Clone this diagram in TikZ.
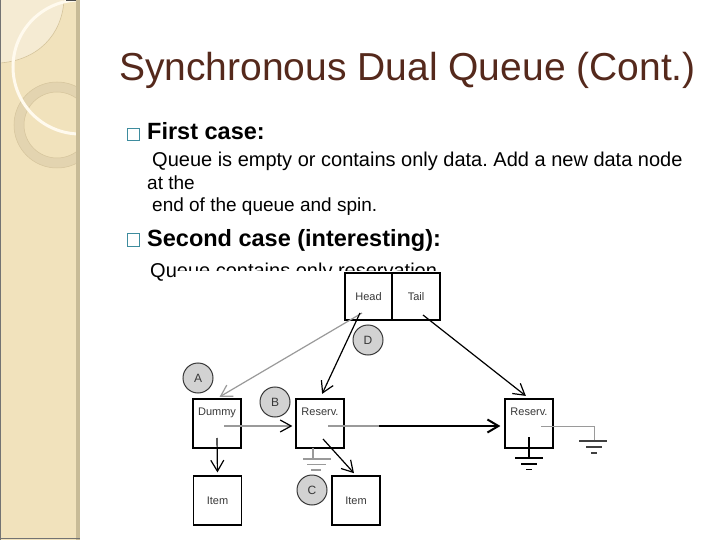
\documentclass[tikz,border=0pt]{standalone}
\usepackage{fontspec}
\setmainfont{Liberation Sans}
\usetikzlibrary{arrows.meta,calc}
\definecolor{stripcol}{HTML}{F1E2BC}
\definecolor{striplight}{HTML}{F5EBD3}
\definecolor{stripline}{HTML}{D5C49C}
\definecolor{ringcol}{HTML}{E3D4B0}
\definecolor{arccol}{HTML}{FFFAEE}
\definecolor{stripedge}{HTML}{C8BB97}
\definecolor{titlecol}{HTML}{55291C}
\definecolor{bulletcol}{HTML}{3E8C9E}
\definecolor{diagtext}{HTML}{383838}
\definecolor{circfill}{HTML}{D2D2D2}
\definecolor{grayline}{HTML}{9A9A9A}
\tikzset{
  box/.style={draw=black, line width=1.2pt, minimum width=48pt, minimum height=49pt, inner sep=0pt, font=\fontsize{11}{12}\selectfont, text=diagtext},
  boxlabel/.style={anchor=north, yshift=-9pt, inner sep=0pt, font=\fontsize{11}{12}\selectfont, text=diagtext},
  circ/.style={circle, draw=diagtext, fill=circfill, line width=1pt, minimum size=30pt, inner sep=0pt, font=\fontsize{12}{13}\selectfont, text=diagtext},
  arr/.style={-{Straight Barb[length=11pt,width=13pt]}, line width=1.2pt},
  garr/.style={arr, draw=grayline},
  gline/.style={draw=grayline, line width=1.2pt},
  bline/.style={draw=black, line width=1.4pt},
  bodytext/.style={anchor=base west, inner sep=0pt, font=\fontsize{19}{22}\selectfont},
  headtext/.style={anchor=base west, inner sep=0pt, font=\bfseries\fontsize{23.5}{26}\selectfont},
  bulletbox/.style={draw=bulletcol, line width=1.3pt, minimum size=12.5pt, inner sep=0pt}
}
\begin{document}
\frenchspacing
\begin{tikzpicture}[x=1pt,y=-1pt]
\useasboundingbox (0,0) rectangle (720,540);
\fill[white] (0,0) rectangle (720,540);
% decorative strip
\begin{scope}
\clip (0,0) rectangle (77,540);
\fill[stripcol] (0,0) rectangle (77,540);
\fill[striplight] (0,0) -- (64,0) .. controls (62,35) and (38,60) .. (0,63) -- cycle;
\draw[stripline, line width=0.6pt] (64,0) .. controls (62,35) and (38,60) .. (0,63);
\draw[ringcol, line width=10pt] (57,125) circle (38);
\draw[stripline, line width=0.5pt] (57,125) circle (43) (57,125) circle (33);
\draw[arccol, line width=3pt] (80,67) circle (67);
\end{scope}
\fill[stripedge] (76,0) rectangle (79.5,540);
\draw[black!55, line width=1pt] (0.5,0) -- (0.5,540);
\draw[black!55, line width=1.5pt] (0,538.5) -- (79.5,538.5);
\fill[black!70] (66,0) rectangle (76,1.5);
% title
\node[anchor=base west, inner sep=0pt, text=titlecol, font=\fontsize{39}{43}\selectfont] (title) at (119,81) {Synchronous Dual Queue (Cont.)};
% bullets and text
\node[bulletbox] (b1) at (133.5,134.5) {};
\node[headtext] (t1) at (147,140) {First case:};
\node[bodytext, font=\fontsize{20}{23}\selectfont] (t2) at (152,167) {Queue is empty or contains only data. Add a new data node};
\node[bodytext] (t3) at (147,189.5) {at the};
\node[bodytext] (t4) at (152,211.5) {end of the queue and spin.};
\node[bulletbox] (b2) at (133.5,240) {};
\node[headtext] (t5) at (147,246.5) {Second case (interesting):};
\node[bodytext, font=\fontsize{20}{23}\selectfont] (t6) at (150,277) {Queue contains only reservation};
% diagram picture background covering the text
\fill[white] (177,271) rectangle (620,540);
% diagram nodes
\node[box, minimum width=47pt, minimum height=47pt] (head) at (368.5,296.5) {Head};
\node[box, minimum width=48pt, minimum height=47pt] (tail) at (416,296.5) {Tail};
\node[box] (dummy) at (217,423.5) {};
\node[boxlabel] (dummyl) at (dummy.north) {Dummy};
\node[box] (res1) at (320,423.5) {};
\node[boxlabel] (res1l) at (res1.north) {Reserv.};
\node[box] (res2) at (529,423.5) {};
\node[boxlabel] (res2l) at (res2.north) {Reserv.};
\node[box] (item1) at (217.5,500.5) {Item};
\node[box] (item2) at (356,500.5) {Item};
\node[circ] (A) at (198,378) {A};
\node[circ] (B) at (275,402) {B};
\node[circ] (C) at (312,490) {C};
\node[circ] (D) at (368,340) {D};
% connector anchor points inside the boxes
\coordinate (hg) at (362,313);
\coordinate (hb) at (360,313);
\coordinate (tp) at (423,315);
\coordinate (dp) at (224,426);
\coordinate (dq) at (217,438);
\coordinate (rp) at (328,426);
\coordinate (rq) at (323,439);
\coordinate (mid) at (379,426);
% connectors
\draw[garr, shorten >=3pt] (hg) -- (dummy.north);
\draw[arr, shorten >=5pt] (hb) -- (res1.north);
\draw[arr, shorten >=4pt] (tp) -- (res2.north);
\draw[gline, -{Straight Barb[length=11pt,width=12pt,color=black]}, shorten >=3pt] (dp) -- (res1.west |- dp);
\draw[gline] (rp) -- (mid);
\draw[arr, line width=2pt, shorten >=4pt] (mid) -- (res2.west |- mid);
\draw[arr, shorten >=3pt] (dq) -- (item1.north);
\draw[arr, shorten >=3pt] (rq) -- (item2.north);
% ground symbols
\draw[gline] (313,448) -- (313,459);
\draw[gline] (303,459) -- (331,459);
\draw[gline] (307,464.5) -- (326,464.5);
\draw[gline] (311,470) -- (321,470);
\draw[gline, line width=1pt] (541,426) -- (594,426) -- (594,441);
\draw[draw=black!75, line width=1.2pt] (579,441) -- (607,441) (586,447) -- (602,447) (591,453) -- (597,453);
\draw[bline] (529,437) -- (529,458);
\draw[bline] (515,458) -- (543,458) (521,464) -- (537,464) (526,469.5) -- (532,469.5);
\end{tikzpicture}
\end{document}
